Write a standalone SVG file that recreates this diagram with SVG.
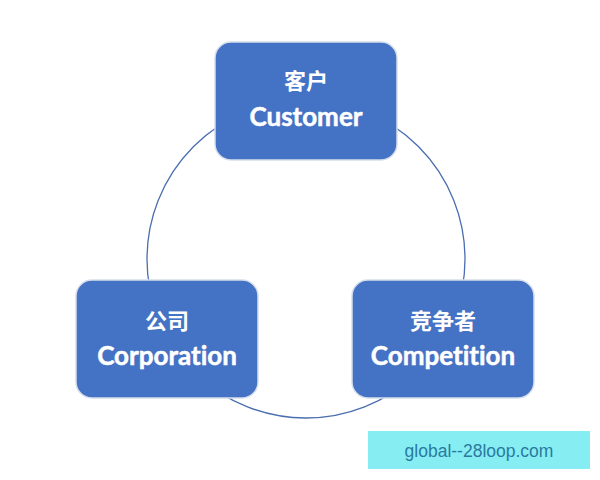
<svg xmlns="http://www.w3.org/2000/svg" width="600" height="480" viewBox="0 0 600 480">
<style>
.box{fill:#4472C4;stroke:#D6DEEC;stroke-width:1.5}
.zh{font-family:"Noto Sans CJK SC",sans-serif;font-weight:bold;font-size:22px;fill:#fff;text-anchor:middle}
.en{font-family:Lato,"Open Sans",sans-serif;font-weight:bold;font-size:26px;fill:#fff;text-anchor:middle;font-variant-ligatures:none;stroke:#fff;stroke-width:0.5}
</style>
<rect width="600" height="480" fill="#fff"/>
<g id="connectors">
<circle cx="306" cy="259" r="159" fill="none" stroke="#4A6EB0" stroke-width="1.3"/>
</g>
<g id="customer">
<rect class="box" x="215" y="42" width="182" height="118" rx="16"/>
<text class="zh" x="306" y="89">客户</text>
<text class="en" x="306" y="126">Customer</text>
</g>
<g id="corporation">
<rect class="box" x="76" y="280" width="182" height="118" rx="16"/>
<text class="zh" x="167" y="329">公司</text>
<text class="en" x="167" y="365">Corporation</text>
</g>
<g id="competition">
<rect class="box" x="352" y="280" width="182" height="118" rx="16"/>
<text class="zh" x="443" y="329">竞争者</text>
<text class="en" x="443" y="365">Competition</text>
</g>
<g id="watermark">
<rect x="368" y="431" width="222" height="38" fill="#86EEF3"/>
<text x="479" y="457" font-family="Liberation Sans,Arial,sans-serif" font-size="17.5" fill="#2A7A9E" text-anchor="middle">global--28loop.com</text>
</g>
</svg>
